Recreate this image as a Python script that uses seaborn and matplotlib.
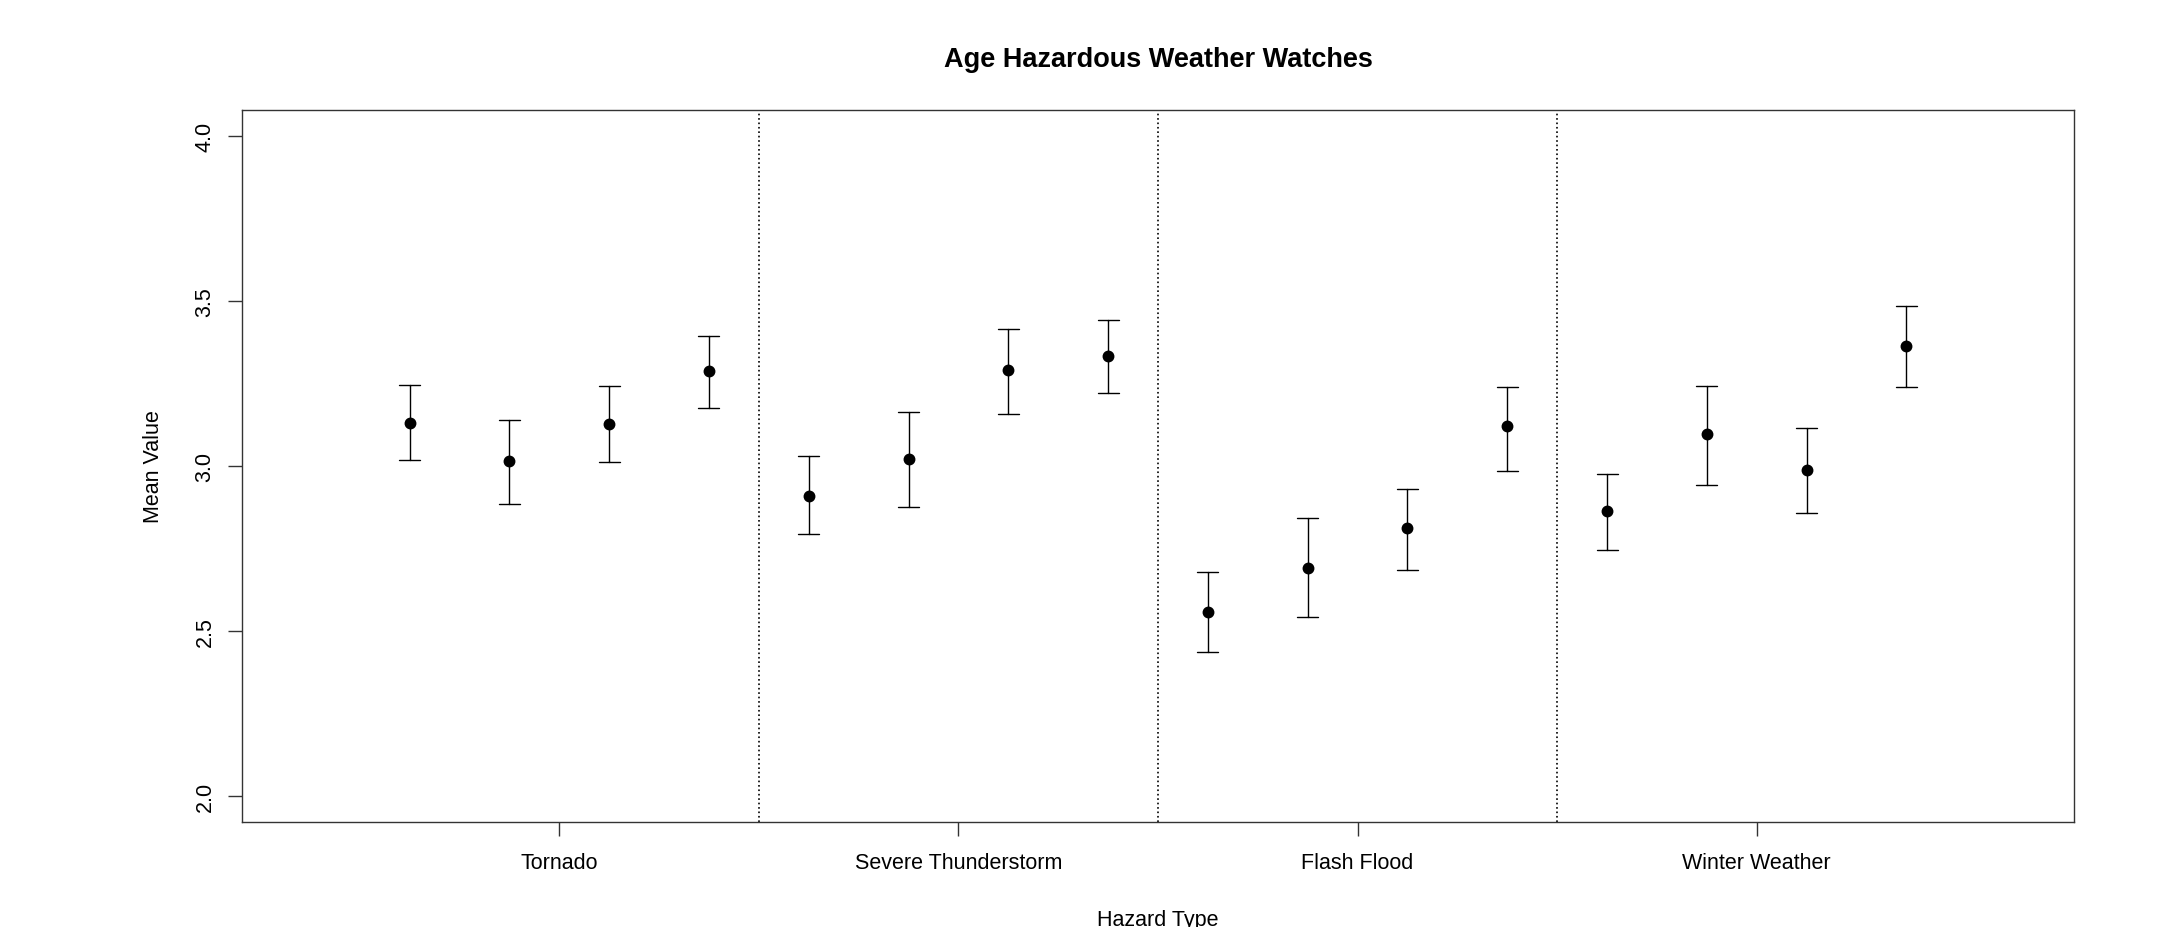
import pandas as pd
import matplotlib as mpl
import matplotlib.pyplot as plt
import seaborn as sns

hazards = ["Tornado", "Severe Thunderstorm", "Flash Flood", "Winter Weather"]
# four age groups per hazard
tornado_mean = [3.132, 3.016, 3.128, 3.287]
tornado_low = [3.018, 2.884, 3.013, 3.175]
tornado_high = [3.246, 3.141, 3.242, 3.395]
severe_mean = [2.910, 3.022, 3.292, 3.334]
severe_low = [2.794, 2.876, 3.159, 3.222]
severe_high = [3.031, 3.163, 3.415, 3.443]
flood_mean = [2.558, 2.691, 2.811, 3.120]
flood_low = [2.437, 2.542, 2.686, 2.986]
flood_high = [2.677, 2.841, 2.931, 3.239]
winter_mean = [2.863, 3.098, 2.988, 3.363]
winter_low = [2.745, 2.943, 2.858, 3.239]
winter_high = [2.976, 3.244, 3.114, 3.486]

means = tornado_mean + severe_mean + flood_mean + winter_mean
lows = tornado_low + severe_low + flood_low + winter_low
highs = tornado_high + severe_high + flood_high + winter_high

# long table: each point gets low / mean / high, median = mean, 100% interval = low..high
rows = []
for i in range(len(means)):
    for v in (lows[i], means[i], highs[i]):
        rows.append({"pos": i + 1, "value": v})
df = pd.DataFrame(rows)

sns.set_style("white")
mpl.rcParams["font.family"] = ["Liberation Sans", "DejaVu Sans"]
mpl.rcParams["axes.edgecolor"] = "#333333"
mpl.rcParams["axes.linewidth"] = 1.0
mpl.rcParams["text.color"] = "black"
mpl.rcParams["axes.labelcolor"] = "black"
mpl.rcParams["xtick.color"] = "black"
mpl.rcParams["ytick.color"] = "black"

fig, ax = plt.subplots(figsize = (21.58, 9.28), dpi = 100)
fig.subplots_adjust(left = 0.1121, right = 0.9611, top = 0.8804, bottom = 0.1131)

sns.pointplot(data = df, x = "pos", y = "value", native_scale = True,
              estimator = "median", errorbar = ("pi", 100), capsize = 0.21,
              color = "black", marker = "o", markersize = 6.5, linestyle = "none",
              err_kws = {"linewidth": 1.0}, ax = ax)

for d in [4.5, 8.5, 12.5]:
    ax.axvline(d, color = "black", linestyle = ":", linewidth = 1.2)

ax.set_xlim(-0.68, 17.68)
ax.set_ylim(1.92, 4.08)
ax.set_xticks([2.5, 6.5, 10.5, 14.5])
ax.set_xticklabels(hazards)
ax.set_yticks([2.0, 2.5, 3.0, 3.5, 4.0])
ax.set_yticklabels(["2.0", "2.5", "3.0", "3.5", "4.0"])
plt.setp(ax.get_yticklabels(), rotation = 90, va = "center")
ax.tick_params(axis = "both", direction = "out", length = 10, width = 1.0, color = "#333333",
               labelsize = 15.5, left = True, bottom = True)
ax.tick_params(axis = "x", pad = 11.5)
ax.tick_params(axis = "y", pad = 9)
for s in ax.spines.values():
    s.set_visible(True)

ax.set_xlabel("Hazard Type", fontsize = 15.5, labelpad = 26)
ax.set_ylabel("Mean Value", fontsize = 15.5, labelpad = 22)
ax.set_title("Age Hazardous Weather Watches", fontsize = 19.5, fontweight = "bold", pad = 32)

fig.savefig("out.png", dpi = 100)
